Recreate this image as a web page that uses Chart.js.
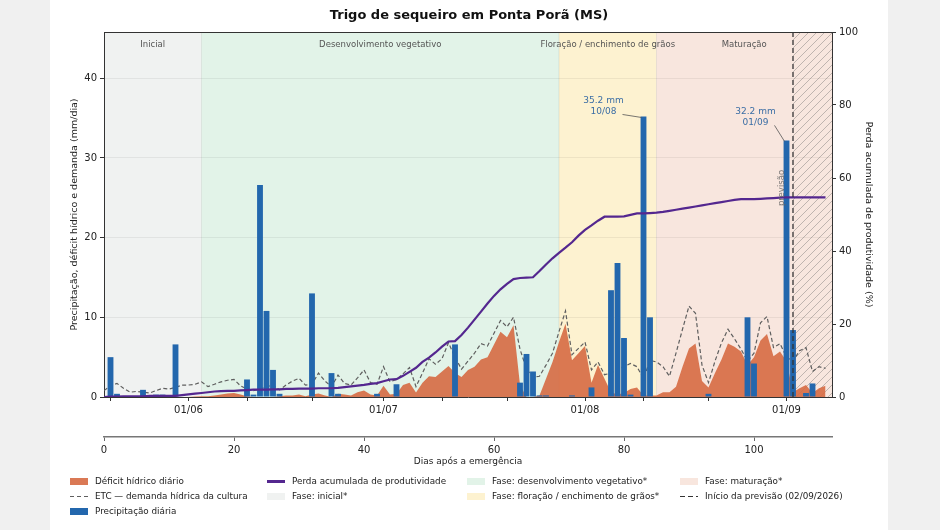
<!DOCTYPE html>
<html lang="pt-BR">
<head>
<meta charset="utf-8">
<title>Trigo de sequeiro em Ponta Porã (MS)</title>
<script src="https://cdn.jsdelivr.net/npm/chart.js@4.4.1/dist/chart.umd.min.js"></script>
<style>
  body { margin: 0; background: #f0f0f0; font-family: "DejaVu Sans", sans-serif; }
  .figura { position: absolute; left: 50px; top: 0; width: 838px; height: 530px; background: #fff; }
  #grafico { position: absolute; left: 0; top: 0; }
  .legenda { position: absolute; left: 0; top: 474px; width: 838px; height: 52px; font-size: 8.8px; color: #222; }
  .item { position: absolute; height: 15px; line-height: 15px; white-space: nowrap; }
  .icone { display: inline-block; width: 18px; vertical-align: middle; margin-right: 7px; }
</style>
</head>
<body>
<div class="figura">
  <canvas id="grafico" width="838" height="530"></canvas>
  <div class="legenda" id="legenda"></div>
</div>
<script>
// dias após a emergência (emergência em 19/05/2026)
const etc = [
  0.8, 1.4, 1.7, 1.1, 0.6, 0.7, 0.6, 0.5, 0.8, 1.1,
  1.0, 1.2, 1.5, 1.5, 1.6, 1.9, 1.3, 1.6, 1.9, 2.1,
  2.2, 1.4, 1.0, 0.8, 1.0, 1.3, 1.5, 0.9, 1.5, 2.0,
  2.35, 1.5, 1.6, 3.0, 2.0, 1.3, 2.75, 1.7, 1.5, 2.4,
  3.4, 1.8, 1.6, 3.8, 1.9, 2.2, 2.9, 3.7, 1.3, 3.0,
  4.8, 4.1, 4.8, 6.8, 5.0, 3.5, 4.5, 5.5, 6.7, 6.4,
  8.0, 9.6, 8.8, 10.0, 6.0, 3.5, 2.5, 2.6, 4.0, 5.5,
  8.2, 10.8, 5.3, 6.1, 6.9, 3.4, 4.4, 2.8, 3.0, 3.5,
  3.8, 4.2, 3.8, 2.3, 4.6, 4.4, 3.8, 2.6, 5.5, 8.5,
  11.4, 10.5, 4.0, 1.8, 4.5, 6.8, 8.5, 7.3, 6.0, 4.5,
  5.5, 9.3, 10.1, 6.2, 6.7, 5.0, 4.5, 5.8, 6.2, 3.2,
  3.8, 3.6
];
const deficit = [
  0, 0, 0, 0, 0, 0, 0, 0, 0, 0,
  0, 0, 0, 0, 0.05, 0.1, 0.1, 0.2, 0.3, 0.45,
  0.5, 0.3, 0.1, 0, 0, 0, 0, 0.1, 0.2, 0.2,
  0.3, 0.1, 0.3, 0.45, 0.2, 0, 0.4, 0.3, 0.2, 0.6,
  0.8, 0.3, 0.2, 1.4, 0.3, 0.4, 1.5, 1.8, 0.55, 1.8,
  2.6, 2.5, 3.2, 3.9, 3.0, 2.5, 3.4, 3.8, 4.7, 5.0,
  6.6, 8.2, 7.5, 9.0, 1.5, 0, 0, 0.2, 2.3, 4.4,
  6.9, 9.2, 4.6, 5.5, 6.4, 1.8, 4.0, 2.3, 0.6, 0.3,
  0.5, 1.0, 1.2, 0.2, 0.2, 0.2, 0.6, 0.6, 1.3, 3.8,
  6.1, 6.7, 2.0, 1.2, 3.0, 4.7, 6.7, 6.3, 5.7, 4.0,
  5.0, 7.1, 7.9, 5.1, 5.7, 4.5, 0.6, 1.1, 1.5, 0.5,
  1.1, 1.4
];
const perdaAcum = [
  0, 0.1, 0.1, 0.2, 0.2, 0.2, 0.2, 0.3, 0.3, 0.3,
  0.3, 0.3, 0.5, 0.7, 0.9, 1.1, 1.3, 1.5, 1.6, 1.7,
  1.7, 1.8, 1.9, 2.0, 2.0, 2.0, 2.1, 2.1, 2.2, 2.2,
  2.3, 2.3, 2.3, 2.4, 2.4, 2.4, 2.5, 2.7, 2.9, 3.1,
  3.3, 3.6, 3.8, 4.3, 4.8, 4.9, 5.8, 6.9, 8.0, 9.6,
  10.8, 12.2, 13.8, 15.2, 15.3, 17.0, 19.0, 21.2, 23.4, 25.6,
  27.7, 29.5, 31.0, 32.3, 32.6, 32.7, 32.8, 34.5, 36.3, 38.0,
  39.5, 40.9, 42.4, 44.2, 45.8, 47.0, 48.3, 49.4, 49.4, 49.4,
  49.5, 49.9, 50.3, 50.3, 50.4, 50.5, 50.7, 51.0, 51.3, 51.6,
  51.9, 52.2, 52.5, 52.8, 53.1, 53.4, 53.7, 54.0, 54.2, 54.2,
  54.2, 54.3, 54.4, 54.5, 54.6, 54.7, 54.7, 54.7, 54.7, 54.7,
  54.7, 54.7
];
const precipDias = [1, 2, 6, 8, 9, 11, 22, 23, 24, 25, 26, 27, 32, 35, 36, 42, 45, 54, 64, 65, 66, 67, 68, 72, 75, 78, 79, 80, 81, 83, 84, 93, 99, 100, 105, 106, 108, 109];
const precipMm = [5.0, 0.4, 0.9, 0.3, 0.3, 6.6, 2.2, 0.3, 26.6, 10.8, 3.4, 0.4, 13.0, 3.0, 0.4, 0.4, 1.6, 6.6, 1.8, 5.4, 3.2, 0.2, 0.2, 0.2, 1.2, 13.4, 16.8, 7.4, 0.3, 35.2, 10.0, 0.4, 10.0, 4.2, 32.2, 8.4, 0.5, 1.7];

const fases = ['Inicial', 'Desenvolvimento vegetativo', 'Floração / enchimento de grãos', 'Maturação'];
const faseInicio = [0, 15, 70, 85];
const faseFim = [15, 70, 85, 112];
const coresFase = ['#f0f2f1', '#e2f3e8', '#fdf2d0', '#f8e6de'];

const mesDias = [13, 43, 74, 105];
const mesRotulos = ['01/06', '01/07', '01/08', '01/09'];
const diasSecundarios = [1, 22, 32, 52, 62, 83, 93];
const previsaoDia = 106;
const anotDias = [83, 105];
const anotDatas = ['10/08', '01/09'];
const diaMax = 112;

Chart.defaults.font.family = '"DejaVu Sans", sans-serif';
Chart.defaults.font.size = 10;
Chart.defaults.color = '#222';

const cores = {
  precip: '#2367ad', deficit: 'rgba(214,106,66,0.9)', etc: '#5f5f5f',
  perda: '#54278f', anot: '#3b6ea5'
};
const anotDesloc = [[-40, -5], [-31, -18]];

const pontos = serie => serie.map((v, i) => ({ x: i, y: v }));

const fundo = {
  id: 'fundo',
  beforeDraw(chart) {
    const { ctx, chartArea: a, scales: { x } } = chart;
    ctx.save();
    faseInicio.forEach((ini, i) => {
      const x0 = x.getPixelForValue(ini), x1 = x.getPixelForValue(faseFim[i]);
      ctx.fillStyle = coresFase[i];
      ctx.fillRect(x0, a.top, x1 - x0, a.bottom - a.top);
      if (i > 0) {
        ctx.strokeStyle = 'rgba(0,0,0,0.07)';
        ctx.lineWidth = 1;
        ctx.beginPath(); ctx.moveTo(x0, a.top); ctx.lineTo(x0, a.bottom); ctx.stroke();
      }
    });
    // região hachurada da previsão
    const xp = x.getPixelForValue(previsaoDia);
    ctx.beginPath(); ctx.rect(xp, a.top, a.right - xp, a.bottom - a.top); ctx.clip();
    ctx.strokeStyle = 'rgba(90,90,90,0.45)';
    ctx.lineWidth = 0.8;
    const h = a.bottom - a.top;
    for (let s = xp - h; s < a.right; s += 8) {
      ctx.beginPath(); ctx.moveTo(s, a.bottom); ctx.lineTo(s + h, a.top); ctx.stroke();
    }
    ctx.restore();
  },
  afterDatasetsDraw(chart) {
    const { ctx, chartArea: a, scales: { x, y } } = chart;
    ctx.save();
    // rótulos das fases
    ctx.fillStyle = '#555';
    ctx.font = '8.5px "DejaVu Sans", sans-serif';
    ctx.textAlign = 'center';
    ctx.textBaseline = 'middle';
    fases.forEach((f, i) => {
      const xc = (x.getPixelForValue(faseInicio[i]) + x.getPixelForValue(faseFim[i])) / 2;
      ctx.fillText(f, xc, a.top + 13);
    });
    // início da previsão
    const xp = x.getPixelForValue(previsaoDia);
    ctx.strokeStyle = '#333';
    ctx.lineWidth = 1.3;
    ctx.setLineDash([5, 3]);
    ctx.beginPath(); ctx.moveTo(xp, a.top); ctx.lineTo(xp, a.bottom); ctx.stroke();
    ctx.setLineDash([]);
    ctx.save();
    ctx.translate(xp - 11, a.top + 156);
    ctx.rotate(-Math.PI / 2);
    ctx.fillStyle = 'rgba(100,100,100,0.85)';
    ctx.font = '8.5px "DejaVu Sans", sans-serif';
    ctx.fillText('previsão', 0, 0);
    ctx.restore();
    // anotações dos maiores eventos de chuva
    anotDias.forEach((d, k) => {
      const v = precipMm[precipDias.indexOf(d)];
      const px = x.getPixelForValue(d), py = y.getPixelForValue(v);
      const cx = px + anotDesloc[k][0], cy = py + anotDesloc[k][1];
      ctx.fillStyle = cores.anot;
      ctx.font = '9px "DejaVu Sans", sans-serif';
      ctx.fillText(v.toFixed(1) + ' mm', cx, cy - 11);
      ctx.fillText(anotDatas[k], cx, cy);
      ctx.strokeStyle = '#555';
      ctx.lineWidth = 0.8;
      ctx.beginPath(); ctx.moveTo(cx + 19, cy + 3); ctx.lineTo(px - 2, py + 1); ctx.stroke();
    });
    // borda superior
    ctx.strokeStyle = '#333';
    ctx.lineWidth = 1;
    ctx.beginPath(); ctx.moveTo(a.left, a.top + 0.5); ctx.lineTo(a.right, a.top + 0.5); ctx.stroke();
    ctx.restore();
  }
};

const chart = new Chart(document.getElementById('grafico'), {
  type: 'bar',
  data: {
    datasets: [
      { type: 'line', label: 'Perda acumulada de produtividade', data: pontos(perdaAcum), yAxisID: 'y1',
        borderColor: cores.perda, borderWidth: 2.2, pointRadius: 0, tension: 0, order: 0 },
      { type: 'bar', label: 'Precipitação diária', data: precipDias.map((d, i) => ({ x: d, y: precipMm[i] })),
        backgroundColor: cores.precip, barPercentage: 0.9, categoryPercentage: 1, order: 1 },
      { type: 'line', label: 'ETC — demanda hídrica da cultura', data: pontos(etc),
        borderColor: cores.etc, borderDash: [4, 2.5], borderWidth: 1.2, pointRadius: 0, order: 2 },
      { type: 'line', label: 'Déficit hídrico diário', data: pontos(deficit),
        borderWidth: 0, backgroundColor: cores.deficit, fill: 'origin', pointRadius: 0, order: 3 }
    ]
  },
  options: {
    responsive: false,
    animation: false,
    layout: { padding: { bottom: 63 } },
    plugins: {
      legend: { display: false },
      tooltip: { enabled: false },
      title: {
        display: true, text: 'Trigo de sequeiro em Ponta Porã (MS)',
        font: { size: 13, weight: 'bold' }, color: '#111', padding: { top: 8, bottom: 8.4 }
      }
    },
    scales: {
      x: {
        type: 'linear', position: 'bottom', min: 0, max: diaMax, offset: false,
        afterBuildTicks: s => { s.ticks = mesDias.concat(diasSecundarios).sort((a, b) => a - b).map(v => ({ value: v })); },
        afterFit: s => { s.height = 40; },
        ticks: { autoSkip: false, maxRotation: 0, callback: v => { const i = mesDias.indexOf(v); return i >= 0 ? mesRotulos[i] : ''; } },
        grid: { drawOnChartArea: false, offset: false, tickLength: 4, tickColor: '#333' },
        border: { color: '#333' }
      },
      x2: {
        type: 'linear', position: 'bottom', min: 0, max: diaMax, offset: false,
        afterFit: s => { s.height = 30; },
        ticks: { stepSize: 20, includeBounds: false, maxRotation: 0 },
        grid: { drawOnChartArea: false, offset: false, tickLength: 4, tickColor: '#666' },
        border: { color: '#777', width: 1.5 },
        title: { display: true, text: 'Dias após a emergência', font: { size: 9 }, padding: { top: 1, bottom: 0 } }
      },
      y: {
        position: 'left', min: 0, max: 45.8,
        afterFit: s => { s.width = 54; },
        ticks: { stepSize: 10, includeBounds: false },
        grid: { color: 'rgba(0,0,0,0.06)', tickLength: 4, tickColor: '#333' },
        border: { color: '#333' },
        title: { display: true, text: 'Precipitação, déficit hídrico e demanda (mm/dia)', font: { size: 9.5 }, padding: { top: 19, bottom: 0 } }
      },
      y1: {
        position: 'right', min: 0, max: 100,
        afterFit: s => { s.width = 56; },
        ticks: { stepSize: 20, includeBounds: false },
        grid: { drawOnChartArea: false, tickLength: 4, tickColor: '#333' },
        border: { color: '#333' },
        title: { display: true, text: 'Perda acumulada de produtividade (%)', font: { size: 9.5 }, padding: { top: 14, bottom: 0 } }
      }
    }
  },
  plugins: [fundo]
});

// legenda em colunas, como no original
const legendaItens = [
  { col: 0, lin: 0, tipo: 'patch', cor: cores.deficit, texto: chart.data.datasets[3].label },
  { col: 0, lin: 1, tipo: 'tracejado', cor: cores.etc, texto: chart.data.datasets[2].label },
  { col: 0, lin: 2, tipo: 'patch', cor: cores.precip, texto: chart.data.datasets[1].label },
  { col: 1, lin: 0, tipo: 'linha', cor: cores.perda, texto: chart.data.datasets[0].label },
  { col: 1, lin: 1, tipo: 'patch', cor: coresFase[0], texto: 'Fase: inicial*' },
  { col: 2, lin: 0, tipo: 'patch', cor: coresFase[1], texto: 'Fase: desenvolvimento vegetativo*' },
  { col: 2, lin: 1, tipo: 'patch', cor: coresFase[2], texto: 'Fase: floração / enchimento de grãos*' },
  { col: 3, lin: 0, tipo: 'patch', cor: coresFase[3], texto: 'Fase: maturação*' },
  { col: 3, lin: 1, tipo: 'tracejadoEscuro', cor: '#333', texto: 'Início da previsão (02/09/2026)' }
];
const colX = [20, 217, 417, 630];
const legenda = document.getElementById('legenda');
legendaItens.forEach(it => {
  const div = document.createElement('div');
  div.className = 'item';
  div.style.left = colX[it.col] + 'px';
  div.style.top = (it.lin * 15) + 'px';
  const ic = document.createElement('span');
  ic.className = 'icone';
  if (it.tipo === 'patch') { ic.style.height = '7px'; ic.style.background = it.cor; }
  else if (it.tipo === 'linha') { ic.style.height = '2.5px'; ic.style.background = it.cor; }
  else if (it.tipo === 'tracejado') { ic.style.height = '1.2px'; ic.style.background = 'repeating-linear-gradient(90deg,' + it.cor + ' 0 4px, transparent 4px 7px)'; }
  else { ic.style.height = '1.5px'; ic.style.background = 'repeating-linear-gradient(90deg,' + it.cor + ' 0 5px, transparent 5px 8px)'; }
  div.appendChild(ic);
  div.appendChild(document.createTextNode(it.texto));
  legenda.appendChild(div);
});
</script>
</body>
</html>
